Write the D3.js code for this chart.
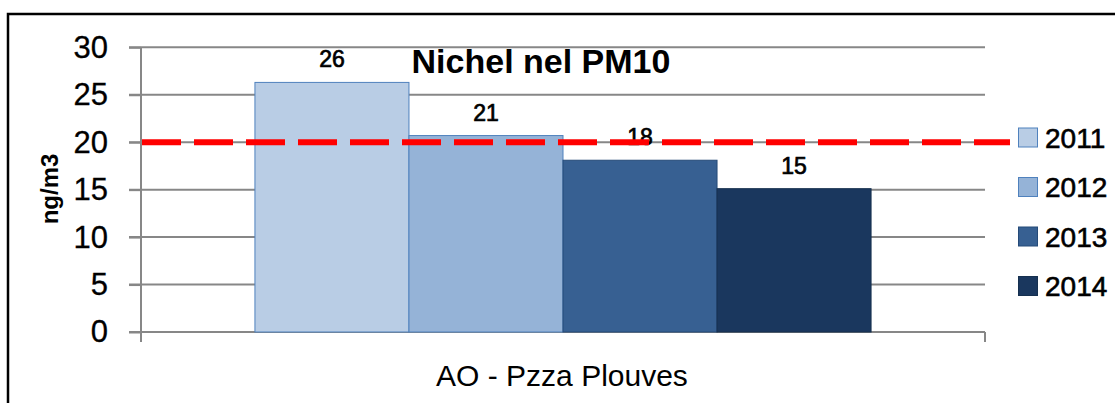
<!DOCTYPE html>
<html><head><meta charset="utf-8">
<script src="https://cdn.jsdelivr.net/npm/d3@7"></script>
<style>html,body{margin:0;padding:0;background:#fff;overflow:hidden}</style>
</head><body>
<svg id="chart" width="1115" height="403"></svg>
<script>
const categories = ["AO - Pzza Plouves"];
const years = ["2011", "2012", "2013", "2014"];
const values = [26.3, 20.7, 18.1, 15.1];
const yTicks = [0, 5, 10, 15, 20, 25, 30];
const limitValue = 20;
const titleText = "Nichel nel PM10";
const yLabel = "ng/m3";
const fills = ["#B9CDE5", "#95B3D7", "#376092", "#1A375E"];
const strokes = ["#4F81BD", "#4F81BD", "#254A78", "#16304F"];

const font = "'Liberation Sans', Arial, sans-serif";
const svg = d3.select("#chart");

// outer frame
svg.append("rect").attr("x", 8).attr("y", 14).attr("width", 1130).attr("height", 420)
  .attr("fill", "#fff").attr("stroke", "#000").attr("stroke-width", 2.5);

const plotL = 141, plotR = 985, plotT = 47.3, plotB = 332;
const y = d3.scaleLinear().domain([0, 30]).range([plotB, plotT]);
const x0 = d3.scaleBand().domain(categories).range([plotL, plotR]).paddingInner(0.27).paddingOuter(0.135);
const x1 = d3.scaleBand().domain(years).range([0, x0.bandwidth()]);
const color = d3.scaleOrdinal().domain(years).range(fills);
const strokeC = d3.scaleOrdinal().domain(years).range(strokes);

// gridlines
const grid = svg.append("g");
grid.selectAll("line").data(yTicks.filter(d => d > 0)).join("line")
  .attr("x1", plotL - 12).attr("x2", plotR).attr("y1", d => y(d)).attr("y2", d => y(d))
  .attr("stroke", "#878787").attr("stroke-width", 2);

// y axis
const yAxis = svg.append("g").attr("transform", `translate(${plotL},0)`)
  .call(d3.axisLeft(y).tickValues(yTicks).tickSize(12).tickPadding(21));
yAxis.select(".domain").remove();
yAxis.append("line").attr("x1", 0).attr("x2", 0).attr("y1", plotT).attr("y2", plotB + 10)
  .attr("stroke", "#878787").attr("stroke-width", 2);
yAxis.selectAll(".tick line").attr("stroke", "#878787").attr("stroke-width", 2);
yAxis.selectAll(".tick text").attr("font-family", font).attr("font-size", 31).attr("fill", "#000")
  .attr("stroke", "#000").attr("stroke-width", 0.3);

// x axis
const xAxisG = svg.append("g");
xAxisG.append("line").attr("x1", plotL - 12).attr("x2", plotR).attr("y1", plotB).attr("y2", plotB)
  .attr("stroke", "#878787").attr("stroke-width", 2);
xAxisG.append("line").attr("x1", plotR).attr("x2", plotR).attr("y1", plotB).attr("y2", plotB + 10)
  .attr("stroke", "#878787").attr("stroke-width", 2);
xAxisG.selectAll("text.cat").data(categories).join("text").attr("class", "cat")
  .attr("x", d => x0(d) + x0.bandwidth() / 2 - 1).attr("y", 386)
  .attr("text-anchor", "middle").attr("font-family", font).attr("font-size", 30).attr("fill", "#000")
  .text(d => d);

// bars
const data = years.map((yr, i) => ({ cat: categories[0], year: yr, value: values[i] }));
const bars = svg.append("g");
bars.selectAll("rect").data(data).join("rect")
  .attr("x", d => x0(d.cat) + x1(d.year))
  .attr("y", d => y(d.value))
  .attr("width", x1.bandwidth())
  .attr("height", d => y(0) - y(d.value))
  .attr("fill", d => color(d.year))
  .attr("stroke", d => strokeC(d.year)).attr("stroke-width", 1);

// data labels
const fmt = d3.format(".0f");
svg.append("g").selectAll("text").data(data).join("text")
  .attr("x", d => x0(d.cat) + x1(d.year) + x1.bandwidth() / 2)
  .attr("y", d => y(d.value) - 15)
  .attr("text-anchor", "middle").attr("font-family", font).attr("font-size", 23).attr("fill", "#000")
  .attr("stroke", "#000").attr("stroke-width", 0.7)
  .text(d => fmt(d.value));

// limit line
svg.append("line").attr("x1", plotL + 1).attr("x2", plotR + 25)
  .attr("y1", y(limitValue)).attr("y2", y(limitValue))
  .attr("stroke", "#FF0000").attr("stroke-width", 6).attr("stroke-dasharray", "39,13");

// title
svg.append("text").attr("x", 541).attr("y", 73).attr("text-anchor", "middle")
  .attr("font-family", font).attr("font-weight", "bold").attr("font-size", 34).attr("fill", "#000")
  .text(titleText);

// y label
svg.append("text").attr("transform", `translate(58,189) rotate(-90)`).attr("text-anchor", "middle")
  .attr("font-family", font).attr("font-weight", "bold").attr("font-size", 24).attr("fill", "#000")
  .text(yLabel);

// legend
const legend = svg.append("g");
const lg = legend.selectAll("g").data(years).join("g")
  .attr("transform", (d, i) => `translate(1018,${137.5 + i * 49.5})`);
lg.append("rect").attr("x", 0.5).attr("y", -9.5).attr("width", 19).attr("height", 19)
  .attr("fill", d => color(d)).attr("stroke", d => strokeC(d)).attr("stroke-width", 1);
lg.append("text").attr("x", 27).attr("y", 10).attr("font-family", font).attr("font-size", 28).attr("fill", "#000")
  .attr("stroke", "#000").attr("stroke-width", 0.6)
  .text(d => d);
</script>
</body></html>
